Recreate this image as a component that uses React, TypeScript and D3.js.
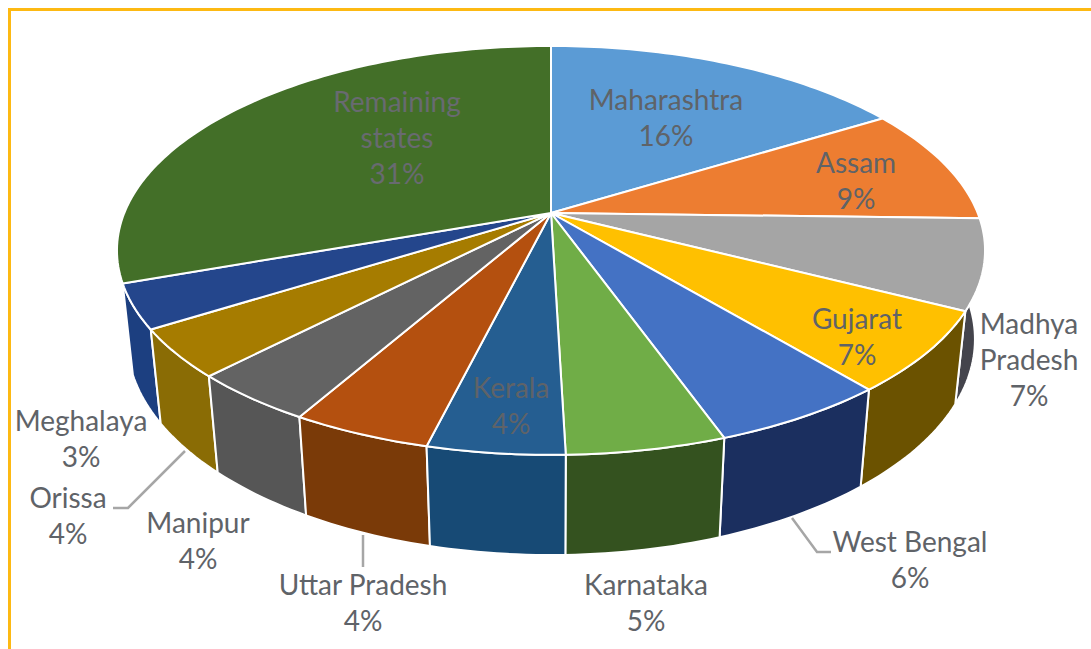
import React from 'react'
import * as d3 from 'd3'

const states = ['Maharashtra', 'Assam', 'Madhya Pradesh', 'Gujarat', 'West Bengal', 'Karnataka', 'Kerala', 'Uttar Pradesh', 'Manipur', 'Orissa', 'Meghalaya', 'Remaining states']
const shares = [16.2, 9.2, 7.1, 6.4, 5.6, 5.0, 4.3, 4.4, 4.0, 3.8, 3.5, 30.4]
const printedShares = [16, 9, 7, 7, 6, 5, 4, 4, 4, 4, 3, 31]
const topColors = ['#5b9bd5', '#ed7d31', '#a5a5a5', '#ffc000', '#4472c4', '#70ad47', '#255e91', '#b4500f', '#636363', '#a67c00', '#24468c', '#436f28']
const wallColors = ['#3a6d9c', '#a4561f', '#44444c', '#6b5200', '#1b2f5f', '#34521f', '#174a75', '#7a3a08', '#565656', '#8a6c05', '#1c3f80', '#2f4a1e']

// label centres, split over lines like the original
const labelLines: Record<string, string[]> = {
	'Madhya Pradesh': ['Madhya', 'Pradesh'],
	'Remaining states': ['Remaining', 'states'],
}
const labelSpots: Record<string, [number, number]> = {
	'Maharashtra': [666, 101],
	'Assam': [856, 164],
	'Madhya Pradesh': [1029, 325],
	'Gujarat': [857, 320],
	'West Bengal': [910, 543],
	'Karnataka': [646, 586],
	'Kerala': [511, 389],
	'Uttar Pradesh': [363, 586],
	'Manipur': [198, 524],
	'Orissa': [68, 499],
	'Meghalaya': [81, 422],
	'Remaining states': [397, 103],
}
const leaders: [number, number][][] = [
	[[792, 518], [817, 552], [831, 552]],
	[[363, 535], [363, 567]],
	[[185, 451], [128, 508], [113, 508]],
]

const cx = 551
const cy = 213
const tilt = 0.183
const radiusX = 426.7
const radiusY = 197.6
const drop = 89.7
const shrink = 0.023

// perspective projection of a point on the unit disc, z = 0 top and z = 1 bottom
const project = (angle: number, r: number, z: number): [number, number] => {
	const u = Math.sin(angle) * r
	const v = -Math.cos(angle) * r
	const w = 1 - tilt * v + shrink * z
	return [cx + radiusX * u / w, cy + (radiusY * v + drop * z) / w]
}

const rimAngles = (a0: number, a1: number) => {
	const n = Math.max(2, Math.ceil((a1 - a0) / 0.02))
	return d3.range(n + 1).map(i => a0 + (a1 - a0) * i / n)
}

const App = () => {
	const line = d3.line()
	const pie = d3.pie<number>().sort(null).value(d => d)
	const arcs = pie(shares).map((arc, i) => ({ ...arc, name: states[i], i }))

	const topPath = (a0: number, a1: number) =>
		line([project(0, 0, 0), ...rimAngles(a0, a1).map(a => project(a, 1, 0))]) + 'Z'
	const wallPath = (a0: number, a1: number) => {
		const angles = rimAngles(a0, a1)
		return line([
			...angles.map(a => project(a, 1, 0)),
			...angles.slice().reverse().map(a => project(a, 1, 1)),
		]) + 'Z'
	}

	// only the near half shows a wall, drawn from back to front
	const depth = (d: { startAngle: number; endAngle: number }) => -Math.cos((d.startAngle + d.endAngle) / 2)
	const walls = arcs.filter(d => depth(d) > 0).sort((a, b) => depth(a) - depth(b))

	return (
		<svg width={1091} height={649} style={{ position: 'absolute', left: 0, top: 0, background: '#fff' }}>
			<path d="M9.5,649V9.5H1091" fill="none" stroke="#fdb913" strokeWidth={3} />

			{walls.map(d => (
				<path key={`wall-${d.name}`} d={wallPath(d.startAngle, d.endAngle)} fill={wallColors[d.i]} stroke="#fff" strokeWidth={2} strokeLinejoin="round" />
			))}
			{arcs.map(d => (
				<path key={`top-${d.name}`} d={topPath(d.startAngle, d.endAngle)} fill={topColors[d.i]} stroke="#fff" strokeWidth={2} strokeLinejoin="round" />
			))}

			{leaders.map((pts, i) => (
				<path key={i} d={line(pts) ?? ''} fill="none" stroke="#a6a6a6" strokeWidth={2.5} />
			))}

			{arcs.map(d => {
				const [x, y] = labelSpots[d.name]
				const lines = [...(labelLines[d.name] ?? [d.name]), `${printedShares[d.i]}%`]
				return (
					<text key={`label-${d.name}`} x={x} textAnchor="middle" fontFamily="Lato, 'Open Sans', sans-serif" fontSize={28} fill={d.name === 'Remaining states' ? '#686a70' : '#5f6368'}>
						{lines.map((t, j) => <tspan key={j} x={x} y={y + 9 + j * 36}>{t}</tspan>)}
					</text>
				)
			})}
		</svg>
	)
}

export default App
